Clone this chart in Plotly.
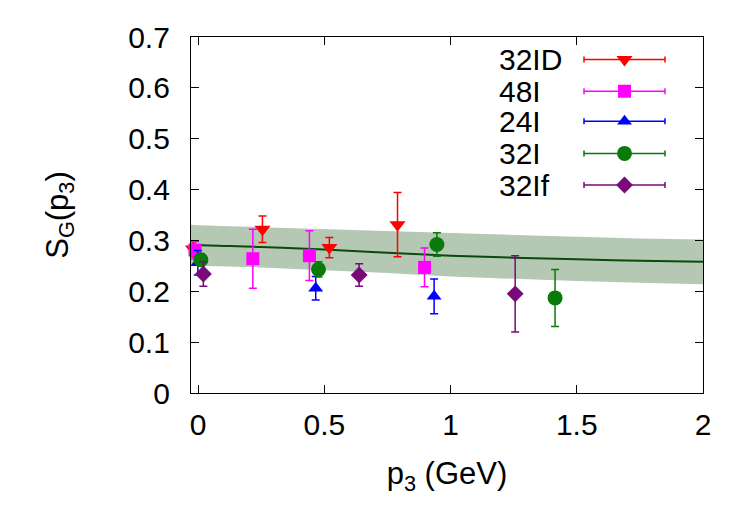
import plotly.graph_objects as go

# ---- data ----
x_32ID = [-0.02, 0.255, 0.52, 0.79]
y_32ID = [0.283, 0.322, 0.286, 0.331]
e_32ID = [0.015, 0.026, 0.020, 0.063]

x_48I = [-0.012, 0.217, 0.441, 0.897]
y_48I = [0.281, 0.264, 0.270, 0.247]
e_48I = [0.017, 0.058, 0.049, 0.038]

x_24I = [-0.001, 0.466, 0.935]
y_24I = [0.256, 0.206, 0.190]
e_24I = [0.024, 0.023, 0.034]

x_32I = [0.011, 0.477, 0.946, 1.414]
y_32I = [0.262, 0.243, 0.292, 0.187]
e_32I = [0.012, 0.015, 0.023, 0.056]

x_32If = [0.021, 0.638, 1.256]
y_32If = [0.234, 0.232, 0.195]
e_32If = [0.024, 0.022, 0.075]

band_x = [-0.028, 0.0, 0.25, 0.5, 0.75, 1.0, 1.25, 1.5, 1.75, 2.0]
band_c = [0.292, 0.291, 0.287, 0.282, 0.276, 0.270, 0.266, 0.263, 0.260, 0.258]
band_u = [0.331, 0.330, 0.326, 0.322, 0.318, 0.314, 0.310, 0.307, 0.304, 0.302]
band_l = [0.252, 0.250, 0.247, 0.242, 0.236, 0.229, 0.224, 0.220, 0.217, 0.214]

x_ticks = [0, 0.5, 1, 1.5, 2]
x_ticklabels = ["0", "0.5", "1", "1.5", "2"]
y_ticks = [0, 0.1, 0.2, 0.3, 0.4, 0.5, 0.6, 0.7]
y_ticklabels = ["0", "0.1", "0.2", "0.3", "0.4", "0.5", "0.6", "0.7"]

series = [
    ("32ID", x_32ID, y_32ID, e_32ID, "#ff0000", "triangle-down", 14),
    ("48I", x_48I, y_48I, e_48I, "#ff00ff", "square", 13),
    ("24I", x_24I, y_24I, e_24I, "#0000ff", "triangle-up", 13),
    ("32I", x_32I, y_32I, e_32I, "#0a7a0a", "circle", 15),
    ("32If", x_32If, y_32If, e_32If, "#7a0a7a", "diamond", 13),
]

FONT = "Liberation Sans, Arial, sans-serif"
FS = 30
FS_T = 31

fig = go.Figure()

# band
fig.add_trace(go.Scatter(x=band_x, y=band_u, mode="lines", line=dict(width=0),
                         showlegend=False, hoverinfo="skip"))
fig.add_trace(go.Scatter(x=band_x, y=band_l, mode="lines", line=dict(width=0),
                         fill="tonexty", fillcolor="rgb(180,200,180)",
                         showlegend=False, hoverinfo="skip"))
fig.add_trace(go.Scatter(x=band_x, y=band_c, mode="lines",
                         line=dict(color="#0b4a0b", width=2, shape="spline"),
                         showlegend=False, hoverinfo="skip"))

for name, xs, ys, es, col, sym, sz in series:
    fig.add_trace(go.Scatter(
        x=xs, y=ys, mode="markers", name=name, showlegend=False,
        marker=dict(symbol=sym, size=sz, color=col, line=dict(width=0)),
        error_y=dict(type="data", array=es, color=col, thickness=1.5, width=4),
        cliponaxis=False,
    ))

# manual legend (gnuplot style) on a pixel-scaled overlay axis
L, R, T, B = 191, 703, 36.7, 393.3
leg_rows = [59.3, 91, 121, 153.3, 185]
leg_cx, leg_half, leg_text_x = 624.5, 40.5, 497
for (name, xs, ys, es, col, sym, sz), ry in zip(series, leg_rows):
    fig.add_trace(go.Scatter(
        x=[leg_cx], y=[ry], xaxis="x2", yaxis="y2", mode="markers",
        showlegend=False, hoverinfo="skip",
        marker=dict(symbol=sym, size=sz, color=col, line=dict(width=0)),
        error_x=dict(type="constant", value=leg_half, color=col, thickness=1.5, width=3),
    ))
    fig.add_annotation(x=leg_text_x, y=ry, xref="x2", yref="y2", text=name,
                       showarrow=False, xanchor="left", yanchor="middle",
                       font=dict(family=FONT, size=FS, color="black"))

axis_common = dict(showline=True, linecolor="black", linewidth=1.3, mirror="ticks",
                   ticks="inside", ticklen=8, tickwidth=1.2, tickcolor="black",
                   showgrid=False, zeroline=False,
                   tickfont=dict(family=FONT, size=FS, color="black"))

fig.update_layout(
    width=750, height=525,
    margin=dict(l=L, r=750 - R, t=T, b=525 - B),
    paper_bgcolor="white", plot_bgcolor="white",
    showlegend=False,
    xaxis=dict(range=[-0.028, 2], tickvals=x_ticks, ticktext=x_ticklabels,
               ticklabelstandoff=5,
               title=dict(text="p<sub>3</sub> (GeV)", font=dict(family=FONT, size=FS_T, color="black"),
                          standoff=22),
               **axis_common),
    yaxis=dict(range=[0, 0.7], tickvals=y_ticks, ticktext=y_ticklabels,
               ticklabelstandoff=14,
               title=dict(text="S<sub>G</sub>(p<sub>3</sub>)", font=dict(family=FONT, size=FS_T, color="black"),
                          standoff=50),
               **axis_common),
    xaxis2=dict(overlaying="x", range=[L, R], visible=False, fixedrange=True),
    yaxis2=dict(overlaying="y", range=[B, T], visible=False, fixedrange=True),
)

fig.write_html("out.html")
